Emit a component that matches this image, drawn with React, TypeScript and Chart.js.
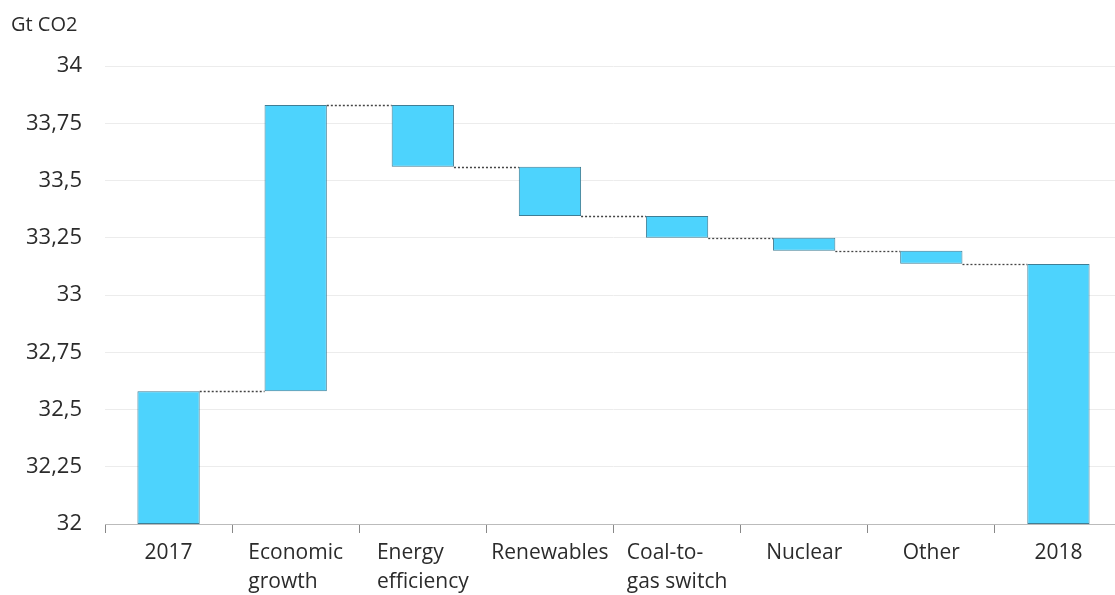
import React, { useEffect, useRef } from "react";
import { Chart, registerables } from "chart.js";

Chart.register(...registerables);

const categories: string[][] = [
  ["2017"],
  ["Economic", "growth"],
  ["Energy", "efficiency"],
  ["Renewables"],
  ["Coal-to-", "gas switch"],
  ["Nuclear"],
  ["Other"],
  ["2018"],
];
const total2017 = 32.58;
const changes = [1.25, -0.27, -0.215, -0.095, -0.057, -0.057];
const total2018 = 33.135;
const axisBase = 32;
const yMin = 32;
const yMax = 34;
const yStep = 0.25;
const yTitle = "Gt CO2";

const FONT = "'Open Sans', sans-serif";
const TEXT = "#2b2b2b";

export default function App() {
  const ref = useRef<HTMLCanvasElement | null>(null);

  useEffect(() => {
    if (!ref.current) return;
    const bars: [number, number][] = [];
    const levels: number[] = [];
    bars.push([axisBase, total2017]);
    levels.push(total2017);
    let cur = total2017;
    for (const c of changes) {
      const next = cur + c;
      bars.push([Math.min(cur, next), Math.max(cur, next)]);
      levels.push(next);
      cur = next;
    }
    bars.push([axisBase, total2018]);

    const connectors = {
      id: "connectors",
      afterDatasetsDraw(chart: any) {
        const meta = chart.getDatasetMeta(0);
        const y = chart.scales.y;
        const ctx = chart.ctx;
        ctx.save();
        ctx.strokeStyle = "#444";
        ctx.lineWidth = 1.3;
        ctx.setLineDash([2, 2]);
        for (let i = 0; i < levels.length; i++) {
          const a = meta.data[i];
          const b = meta.data[i + 1];
          if (!a || !b) continue;
          const py = Math.round(y.getPixelForValue(levels[i])) + 0.5;
          ctx.beginPath();
          ctx.moveTo(a.x + a.width / 2, py);
          ctx.lineTo(b.x - b.width / 2, py);
          ctx.stroke();
        }
        ctx.restore();
      },
    };

    const extraText = {
      id: "extraText",
      afterDraw(chart: any) {
        const ctx = chart.ctx;
        const x = chart.scales.x;
        ctx.save();
        ctx.fillStyle = TEXT;
        ctx.font = `20px ${FONT}`;
        ctx.textBaseline = "middle";
        ctx.textAlign = "left";
        ctx.fillText(yTitle, 11, 25);
        ctx.font = `21px ${FONT}`;
        categories.forEach((lines, i) => {
          const cx = x.getPixelForValue(i);
          const w = Math.max(...lines.map((l) => ctx.measureText(l).width));
          const left = cx - w / 2;
          lines.forEach((l, j) => {
            ctx.fillText(l, left, 553 + j * 29);
          });
        });
        ctx.restore();
      },
    };

    const chart = new Chart(ref.current, {
      type: "bar",
      data: {
        labels: categories.map((c) => c.join(" ")),
        datasets: [
          {
            data: bars as any,
            backgroundColor: "#4DD3FD",
            borderColor: "#3f7e95",
            borderWidth: 1,
            borderSkipped: false,
            categoryPercentage: 1,
            barPercentage: 0.49,
          },
        ],
      },
      options: {
        animation: false,
        responsive: false,
        maintainAspectRatio: false,
        layout: { padding: { top: 66, left: 0, right: 0, bottom: 0 } },
        plugins: {
          legend: { display: false },
          tooltip: { enabled: false },
        },
        scales: {
          x: {
            grid: {
              display: true,
              drawOnChartArea: false,
              drawTicks: true,
              tickLength: 9,
              color: "#888",
              offset: true,
            },
            border: { display: true, color: "#bbbbbb" },
            ticks: { display: false },
            afterFit: (s: any) => {
              s.height = 71;
            },
          },
          y: {
            min: yMin,
            max: yMax,
            grid: { color: "#ececec", drawTicks: false },
            border: { display: false },
            ticks: {
              stepSize: yStep,
              padding: 23,
              color: TEXT,
              font: { family: FONT, size: 22 },
              callback: (v: any) => String(Number(v)).replace(".", ","),
            },
            afterFit: (s: any) => {
              s.width = 105;
            },
          },
        },
      },
      plugins: [connectors, extraText],
    });
    return () => chart.destroy();
  }, []);

  return (
    <div
      style={{
        position: "fixed",
        left: 0,
        top: 0,
        width: 1115,
        height: 595,
        overflow: "hidden",
        background: "#fff",
      }}
    >
      <canvas ref={ref} width={1122} height={595} style={{ display: "block" }} />
    </div>
  );
}
